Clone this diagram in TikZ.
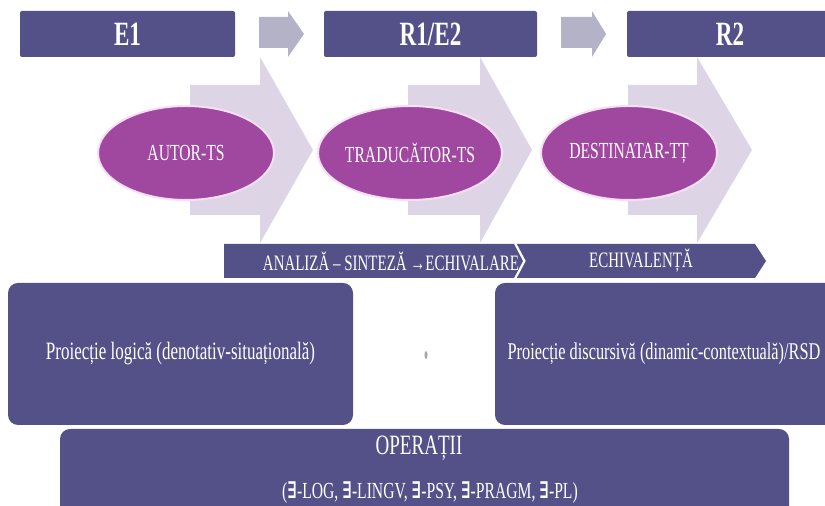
\documentclass[tikz,border=0pt]{standalone}
\usepackage{fontspec}
\setmainfont{Liberation Serif}[FakeStretch=0.68]
\newfontfamily\symfont{DejaVu Serif}[FakeStretch=0.68]
\usepackage{tikz}
\usetikzlibrary{shapes.geometric}

\definecolor{barblue}{RGB}{83,81,135}
\definecolor{arrowgrey}{RGB}{179,178,198}
\definecolor{chevlight}{RGB}{221,213,229}
\definecolor{rolepurple}{RGB}{160,72,160}
\definecolor{rolerim}{RGB}{246,222,243}

\begin{document}
\begin{tikzpicture}[x=0.5pt, y=-0.5pt, inner sep=0pt,
    bar/.style={fill=barblue, text=white, rounded corners=1pt, minimum height=23pt, font=\fontsize{17}{19}\selectfont\bfseries},
    role/.style={ellipse, fill=rolepurple, draw=rolerim, line width=1pt, text=white, minimum width=88pt, minimum height=47pt, font=\fontsize{11.5}{13}\selectfont},
    panel/.style={fill=barblue, text=white, rounded corners=5pt, align=center},
    bandtext/.style={text=white, font=\fontsize{11}{13}\selectfont}]
    \useasboundingbox (0,0) rectangle (825,506);

    % light chevrons behind the roles
    \fill[chevlight] (190,85) -- (260,85) -- (260,57) -- (313,150) -- (260,243) -- (260,215) -- (190,215) -- cycle;
    \fill[chevlight] (408,85) -- (480,85) -- (480,57) -- (532,150) -- (480,243) -- (480,215) -- (408,215) -- cycle;
    \fill[chevlight] (628,85) -- (697,85) -- (697,57) -- (752,150) -- (697,243) -- (697,215) -- (628,215) -- cycle;

    % top row
    \node[bar, minimum width=107.5pt]  (E1)   at (127.5, 34)   {E1};
    \node[bar, minimum width=106.5pt]  (R1E2) at (430.5, 34)   {R1/E2};
    \node[bar, minimum width=103pt]    (R2)   at (730.0, 34)   {R2};

    \fill[arrowgrey] (259,17) -- (288,17) -- (288,11) -- (304,34) -- (288,57) -- (288,48) -- (259,48) -- cycle;
    \fill[arrowgrey] (561,17) -- (592,17) -- (592,11) -- (606,34) -- (592,57) -- (592,48) -- (561,48) -- cycle;

    % roles
    \node[role]  (AT)  at (186, 153)  {AUTOR-TS};
    \node[role]  (TR)  at (410, 153)  {TRADUCĂTOR-TS};
    \node[role]  (DT)  at (629, 153)  {DESTINATAR-TȚ};

    % process band
    \fill[barblue] (224,244) -- (514,244) -- (523,261) -- (514,278) -- (224,278) -- cycle;
    \fill[barblue] (516,244) -- (755,244) -- (766,261) -- (755,278) -- (516,278) -- (525,261) -- cycle;
    \draw[white, line width=0.6pt] (516,244) -- (525,261) -- (516,278);
    \node[bandtext]  (AN)  at (391, 261)  {ANALIZĂ – SINTEZĂ →ECHIVALARE};
    \node[bandtext]  (EC)  at (641, 261)  {ECHIVALENȚĂ};

    % projections
    \node[panel, minimum width=172.5pt, minimum height=71pt, font=\fontsize{12.5}{14}\selectfont]  (PL)  at (180.5, 354)  {Proiecție logică (denotativ-situațională)};
    \node[panel, minimum width=170pt, minimum height=71pt]  (PD)  at (665.0, 354)  {};
    \node[text=white, font=\fontsize{12}{14}\selectfont]  (PDt)  at (664, 354)  {Proiecție discursivă (dinamic-contextuală)/RSD};
    \node[ellipse, fill=gray!70, minimum width=1.5pt, minimum height=4pt]  (dot)  at (426, 355)  {};

    % operations
    \node[panel, minimum width=364.5pt, minimum height=45.5pt]  (OP)  at (424.5, 474.5)  {};
    \node[text=white, font=\fontsize{14}{16}\selectfont]  (OPt)  at (419, 448)  {OPERAȚII};
    \node[text=white, font=\fontsize{11.5}{13}\selectfont]  (OPl)  at (430, 493)  {({\symfont\bfseries ∃}-LOG, {\symfont\bfseries ∃}-LINGV, {\symfont\bfseries ∃}-PSY, {\symfont\bfseries ∃}-PRAGM, {\symfont\bfseries ∃}-PL)};
\end{tikzpicture}
\end{document}
